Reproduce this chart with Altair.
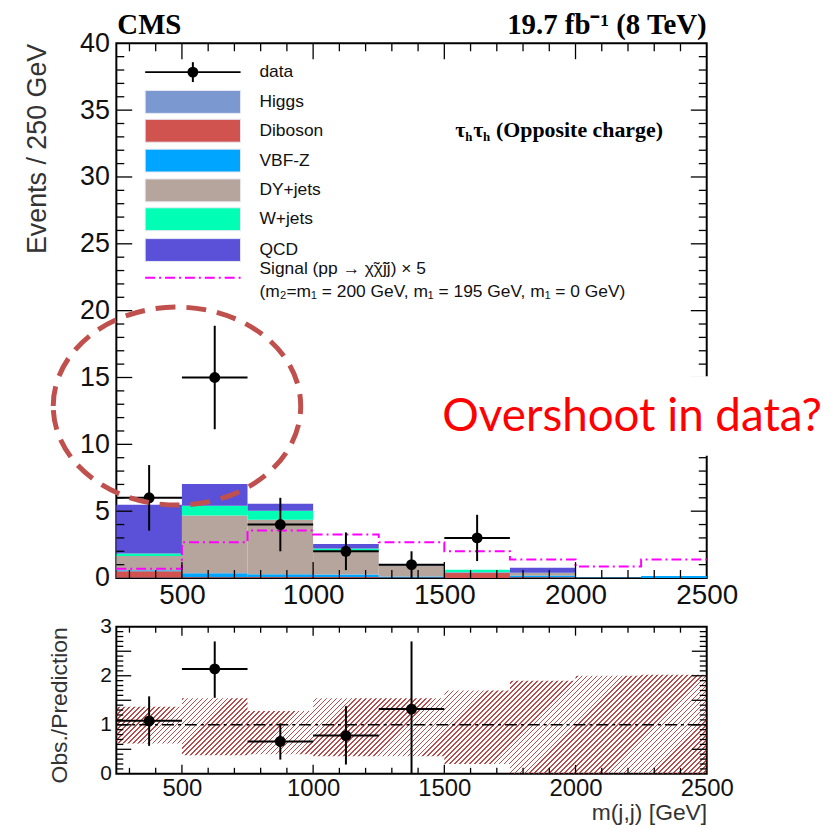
import altair as alt
import pandas as pd

# ---------------- data ----------------
bin_lo = [250, 500, 750, 1000, 1250, 1500, 1750, 2000, 2250]
bin_hi = [500, 750, 1000, 1250, 1500, 1750, 2000, 2250, 2500]

bkg_names = ["Higgs", "Diboson", "VBF-Z", "DY+jets", "W+jets", "QCD"]
bkg_colors = ["#7b98d0", "#d0534f", "#00a5ff", "#b6a59d", "#00ffb4", "#5a51d8"]
higgs   = [0.03, 0.03, 0.02, 0.02, 0.01, 0.01, 0.01, 0.00, 0.00]
diboson = [0.48, 0.05, 0.05, 0.05, 0.03, 0.38, 0.05, 0.00, 0.00]
vbfz    = [0.08, 0.27, 0.22, 0.20, 0.08, 0.04, 0.12, 0.04, 0.15]
dyjets  = [1.05, 4.33, 4.07, 1.73, 0.78, 0.02, 0.20, 0.02, 0.00]
wjets   = [0.20, 0.73, 0.67, 0.21, 0.02, 0.17, 0.02, 0.00, 0.00]
qcd     = [3.64, 1.63, 0.52, 0.34, 0.03, 0.00, 0.37, 0.00, 0.00]

signal = [0.69, 2.68, 3.55, 3.25, 2.68, 2.00, 1.39, 0.87, 1.39]

data_x = [375, 625, 875, 1125, 1375, 1625]
data_lo_edge = [250, 500, 750, 1000, 1250, 1500]
data_hi_edge = [500, 750, 1000, 1250, 1500, 1750]
data_y = [6, 15, 4, 2, 1, 3]
data_err = [2.45, 3.87, 2.0, 1.41, 1.0, 1.73]

ratio_x = [375, 625, 875, 1125, 1375]
ratio_lo_edge = [250, 500, 750, 1000, 1250]
ratio_hi_edge = [500, 750, 1000, 1250, 1500]
ratio_y = [1.08, 2.14, 0.66, 0.78, 1.32]
ratio_dn = [0.57, 1.55, 0.29, 0.19, 0.00]
ratio_up = [1.58, 2.70, 1.03, 1.38, 2.70]

band_lo = [0.62, 0.38, 0.40, 0.36, 0.36, 0.20, 0.00, 0.00, 0.00]
band_hi = [1.37, 1.54, 1.28, 1.54, 1.54, 1.70, 1.90, 2.00, 2.02]

# ---------------- layout / style ----------------
W, H, HR = 594, 538, 148
FONT = "Liberation Sans"
SERIF = "Liberation Serif"
xs = alt.Scale(domain=[250, 2500], nice=False, zero=False)
ys = alt.Scale(domain=[0, 40], nice=False, zero=True)
yr = alt.Scale(domain=[0, 3], nice=False, zero=True)

# stacked background table
stack_rows = []
comps = [higgs, diboson, vbfz, dyjets, wjets, qcd]
for i in range(len(bin_lo)):
    base = 0.0
    for name, col, vals in zip(bkg_names, bkg_colors, comps):
        stack_rows.append({"lo": bin_lo[i], "hi": bin_hi[i], "y0": base,
                           "y1": base + vals[i], "name": name, "col": col})
        base += vals[i]
stack_df = pd.DataFrame(stack_rows)

sig_df = pd.DataFrame({"x": bin_lo + [bin_hi[-1]], "y": signal + [signal[-1]]})
dat_df = pd.DataFrame({"x": data_x, "lo": data_lo_edge, "hi": data_hi_edge, "y": data_y,
                       "yd": [v - e for v, e in zip(data_y, data_err)],
                       "yu": [v + e for v, e in zip(data_y, data_err)]})
rat_df = pd.DataFrame({"x": ratio_x, "lo": ratio_lo_edge, "hi": ratio_hi_edge,
                       "y": ratio_y, "yd": ratio_dn, "yu": ratio_up})
band_df = pd.DataFrame({"x": bin_lo + [bin_hi[-1]], "lo": band_lo + [band_lo[-1]],
                        "hi": band_hi + [band_hi[-1]]})


def tick_layers(w, h, scx, scy, x_minor, x_major, y_minor, y_major, mnx, mjx, mny, mjy):
    out = []
    for vals, ln in ((x_minor, mnx), (x_major, mjx)):
        c = alt.Chart(pd.DataFrame({"v": vals})).mark_rule(color="black", strokeWidth=1.3)
        out.append(c.encode(x=alt.X("v:Q", scale=scx), y=alt.value(h), y2=alt.value(h - ln)))
        out.append(c.encode(x=alt.X("v:Q", scale=scx), y=alt.value(0), y2=alt.value(ln)))
    for vals, ln in ((y_minor, mny), (y_major, mjy)):
        c = alt.Chart(pd.DataFrame({"v": vals})).mark_rule(color="black", strokeWidth=1.3)
        out.append(c.encode(y=alt.Y("v:Q", scale=scy), x=alt.value(0), x2=alt.value(ln)))
        out.append(c.encode(y=alt.Y("v:Q", scale=scy), x=alt.value(w - ln), x2=alt.value(w)))
    return out


x_major_vals = [500, 1000, 1500, 2000]
x_minor_vals = [v for v in range(300, 2500, 100) if v % 500 != 0]

# ---------------- main panel ----------------
bars = alt.Chart(stack_df).mark_rect().encode(
    x=alt.X("lo:Q", scale=xs, axis=alt.Axis(values=[500, 1000, 1500, 2000, 2500], title=None,
                                            format="d", ticks=False, domain=False, labelFontSize=28,
                                            labelPadding=4, labelFlush=False, labelOverlap=False,
                                            labelColor="#111", labelFont=FONT)),
    x2="hi:Q",
    y=alt.Y("y0:Q", scale=ys, axis=alt.Axis(values=list(range(0, 41, 5)), ticks=False, domain=False,
                                            format="d", labelFontSize=27, labelPadding=7,
                                            labelColor="#111", labelOverlap=False,
                                            labelFont=FONT, title="Events / 250 GeV",
                                            titleFontSize=27, titleFont=FONT, titleFontWeight="normal",
                                            titleColor="#333", titleAnchor="end", titlePadding=28)),
    y2="y1:Q",
    fill=alt.Fill("col:N", scale=None),
)

sig_line = alt.Chart(sig_df).mark_line(interpolate="step-after", color="#ff00ff", strokeWidth=2,
                                       strokeDash=[10, 4, 2, 4]).encode(
    x=alt.X("x:Q", scale=xs), y=alt.Y("y:Q", scale=ys))

d_v = alt.Chart(dat_df).mark_rule(color="black", strokeWidth=2).encode(
    x=alt.X("x:Q", scale=xs), y=alt.Y("yd:Q", scale=ys), y2="yu:Q")
d_h = alt.Chart(dat_df).mark_rule(color="black", strokeWidth=2).encode(
    x=alt.X("lo:Q", scale=xs), x2="hi:Q", y=alt.Y("y:Q", scale=ys))
d_p = alt.Chart(dat_df).mark_circle(color="black", opacity=1, size=120).encode(
    x=alt.X("x:Q", scale=xs), y=alt.Y("y:Q", scale=ys))

# legend (pixel positions inside the frame)
leg_rows = [29, 59, 88, 118, 148, 177, 208]
leg_sw = pd.DataFrame({"py": leg_rows[1:], "col": bkg_colors, "name": bkg_names})
leg_sw["py0"] = leg_sw["py"] - 11.5
leg_sw["py1"] = leg_sw["py"] + 11.5
leg_rect = alt.Chart(leg_sw).mark_rect(stroke="#e8e8f4", strokeWidth=1).encode(
    x=alt.value(29), x2=alt.value(125),
    y=alt.Y("py0:Q", scale=None), y2="py1:Q",
    fill=alt.Fill("col:N", scale=None))
leg_txt_df = pd.DataFrame({"py": leg_rows, "name": ["data"] + bkg_names})
leg_txt = alt.Chart(leg_txt_df).mark_text(align="left", baseline="middle", fontSize=17.5,
                                          font=FONT, color="#111").encode(
    x=alt.value(144), y=alt.Y("py:Q", scale=None), text="name:N")

leg_data_h = alt.Chart(pd.DataFrame({"a": [0]})).mark_rule(color="black", strokeWidth=2).encode(
    x=alt.value(29), x2=alt.value(125), y=alt.value(29))
leg_data_v = alt.Chart(pd.DataFrame({"a": [0]})).mark_rule(color="black", strokeWidth=2).encode(
    x=alt.value(77), y=alt.value(19), y2=alt.value(39))
leg_data_p = alt.Chart(pd.DataFrame({"a": [0]})).mark_circle(color="black", opacity=1, size=120).encode(
    x=alt.value(77), y=alt.value(29))
leg_sig = alt.Chart(pd.DataFrame({"a": [0]})).mark_rule(color="#ff00ff", strokeWidth=2,
                                                       strokeDash=[10, 4, 2, 4]).encode(
    x=alt.value(29), x2=alt.value(125), y=alt.value(236))
leg_sig_t1 = alt.Chart(pd.DataFrame({"a": [0]})).mark_text(
    align="left", baseline="middle", fontSize=17.5, font=FONT, color="#111",
    text="Signal (pp \u2192 \u03c7\u0303\u03c7\u0303jj) \u00d7 5").encode(x=alt.value(144), y=alt.value(227))
leg_sig_t2 = alt.Chart(pd.DataFrame({"a": [0]})).mark_text(
    align="left", baseline="middle", fontSize=17.5, font=FONT, color="#111",
    text="(m\u2082=m\u2081 = 200 GeV, m\u2081 = 195 GeV, m\u2081 = 0 GeV)").encode(x=alt.value(144), y=alt.value(250))


def txt(s, x, y, size, font=SERIF, weight="bold", color="black", align="left", baseline="alphabetic"):
    return alt.Chart(pd.DataFrame({"a": [0]})).mark_text(
        text=s, align=align, baseline=baseline, fontSize=size, font=font,
        fontWeight=weight, color=color).encode(x=alt.value(x), y=alt.value(y))


chan = [txt("\u03c4", 341, 94, 22), txt("h", 351, 98, 13), txt("\u03c4", 359, 94, 22),
        txt("h", 369, 98, 13), txt("(Opposite charge)", 382, 94, 22)]

header = [txt("CMS", 1, -9, 29), txt("19.7 fb\u207b\u00b9 (8 TeV)", W, -9, 29, align="right")]

ellipse = alt.Chart(pd.DataFrame({"a": [0]})).mark_point(
    shape="M -1 0 A 1 0.8 0 1 1 1 0 A 1 0.8 0 1 1 -1 0 Z", filled=False,
    stroke="#c0504d", strokeWidth=5, strokeDash=[20, 11], opacity=1).encode(
    x=alt.value(61), y=alt.value(365), size=alt.value(62000))

white_box = alt.Chart(pd.DataFrame({"a": [0]})).mark_rect(fill="white").encode(
    x=alt.value(322), x2=alt.value(700), y=alt.value(335), y2=alt.value(415))
overshoot = txt("Overshoot in data?", 328, 390, 46, font="Lato", weight="normal", color="#ff0000")

main_ticks = tick_layers(W, H, xs, ys, x_minor_vals, x_major_vals,
                         [v for v in range(1, 40) if v % 5 != 0], [5, 10, 15, 20, 25, 30, 35],
                         8, 16, 8, 16)

main = alt.layer(bars, sig_line, d_v, d_h, d_p, *main_ticks,
                 leg_rect, leg_txt, leg_data_h, leg_data_v, leg_data_p, leg_sig, leg_sig_t1, leg_sig_t2,
                 *chan, *header, ellipse, white_box, overshoot).properties(width=W, height=H)

# ---------------- ratio panel ----------------
hatch = "#a52222"
clear = "rgba(255,255,255,0)"
bw, bh = float(W), max(band_hi) / 3 * HR
r = bh / bw
s = (bw + bh) / (bw * (1 + r * r))
n_str = int(round((bw + bh) / 5.0))
stops = []
for k in range(n_str):
    a0, a1, a2 = k / n_str, (k + 0.33) / n_str, (k + 1) / n_str
    stops += [alt.GradientStop(offset=a0, color=hatch), alt.GradientStop(offset=a1, color=hatch),
              alt.GradientStop(offset=a1, color=clear), alt.GradientStop(offset=min(a2, 1.0), color=clear)]
grad = alt.LinearGradient(gradient="linear", stops=stops, x1=0, y1=0, x2=s, y2=s * r)

band = alt.Chart(band_df).mark_area(interpolate="step-after", fill=grad, opacity=0.8).encode(
    x=alt.X("x:Q", scale=xs, axis=alt.Axis(values=[500, 1000, 1500, 2000, 2500], ticks=False,
                                           format="d", domain=False, labelFontSize=24, labelPadding=3,
                                           labelFlush=False, labelOverlap=False, labelColor="#111",
                                           labelFont=FONT, title="m(j,j) [GeV]", titleFontSize=23,
                                           titleFont=FONT, titleFontWeight="normal", titleColor="#333",
                                           titleAnchor="end", titlePadding=1)),
    y=alt.Y("lo:Q", scale=yr, axis=alt.Axis(values=[0, 0.5, 1, 1.5, 2, 2.5, 3], format=".1~f",
                                            ticks=False, domain=False, labelFontSize=21,
                                            labelPadding=5, labelColor="#111", labelFont=FONT,
                                            labelOverlap=False,
                                            title="Obs./Prediction", titleFontSize=23, titleFont=FONT,
                                            titleFontWeight="normal", titleColor="#333",
                                            titleAnchor="end", titlePadding=28)),
    y2="hi:Q")

one_line = alt.Chart(pd.DataFrame({"a": [0]})).mark_rule(color="black", strokeWidth=1.5,
                                                        strokeDash=[12, 4, 3, 4]).encode(
    y=alt.datum(1, scale=yr), x=alt.value(0), x2=alt.value(W))

r_v = alt.Chart(rat_df).mark_rule(color="black", strokeWidth=2).encode(
    x=alt.X("x:Q", scale=xs), y=alt.Y("yd:Q", scale=yr), y2="yu:Q")
r_h = alt.Chart(rat_df).mark_rule(color="black", strokeWidth=2).encode(
    x=alt.X("lo:Q", scale=xs), x2="hi:Q", y=alt.Y("y:Q", scale=yr))
r_p = alt.Chart(rat_df).mark_circle(color="black", opacity=1, size=120).encode(
    x=alt.X("x:Q", scale=xs), y=alt.Y("y:Q", scale=yr))

r_minor_y = [round(v * 0.1, 1) for v in range(1, 30) if v % 5 != 0]
ratio_ticks = tick_layers(W, HR, xs, yr, x_minor_vals, x_major_vals,
                          r_minor_y, [0.5, 1.0, 1.5, 2.0, 2.5], 6, 9, 7, 15)

ratio = alt.layer(band, one_line, r_v, r_h, r_p, *ratio_ticks).properties(width=W, height=HR)

chart = alt.vconcat(main, ratio, spacing=49, bounds="flush").properties(
    padding={"left": 14, "top": 0, "right": 0, "bottom": 0}
).configure_view(stroke="black", strokeWidth=2).configure_axis(grid=False)

chart.save("out.html", embed_options={"renderer": "svg", "actions": False})
